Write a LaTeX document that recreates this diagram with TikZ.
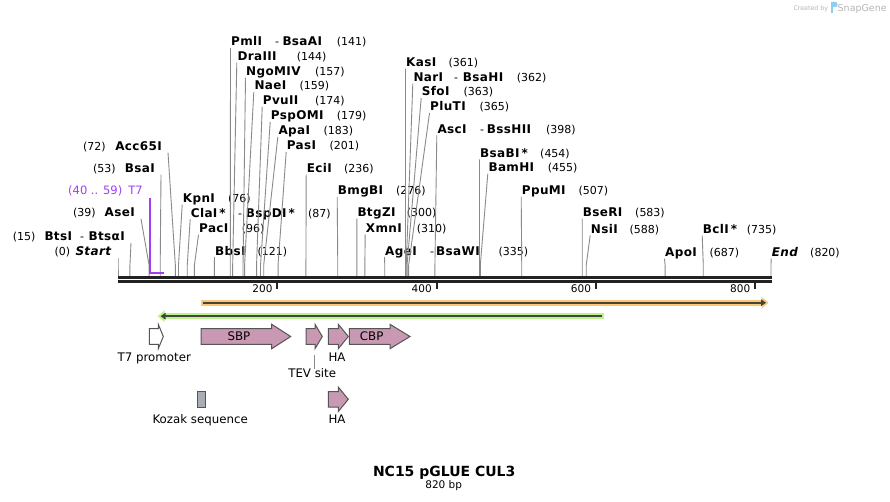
\documentclass[tikz,border=0pt]{standalone}
\usepackage{fontspec}
\setmainfont{DejaVu Sans}
\newfontfamily\enzfont{DejaVu Sans}[LetterSpace=3.0]
\usetikzlibrary{arrows.meta}
\definecolor{pinkf}{HTML}{C998B2}
\definecolor{featline}{HTML}{555555}
\definecolor{cutgray}{HTML}{8A8A8A}
\definecolor{rulerc}{HTML}{222222}
\definecolor{orglow}{HTML}{F9C775}
\definecolor{grglow}{HTML}{BDF38E}
\definecolor{darkln}{HTML}{45453F}
\definecolor{tsevpurple}{HTML}{A040F0}
\definecolor{kozakc}{HTML}{A9ADB5}
\definecolor{sgray}{HTML}{B5B5B5}
\definecolor{sblue}{HTML}{8CCFF0}
\tikzset{
  enz/.style={font=\fontsize{12}{13}\enzfont\bfseries, inner sep=0pt},
  num/.style={font=\fontsize{11}{13}\selectfont, inner sep=0pt},
  cutline/.style={draw=cutgray, line width=0.9pt},
  flab/.style={font=\fontsize{11.8}{14}\selectfont, inner sep=0pt},
  featstyle/.style={draw=featline, line width=1pt, line join=miter},
  ticklab/.style={font=\fontsize{10.5}{12}\selectfont, inner sep=0pt, anchor=base east},
}
% right-hand label: name, text, x, baseline, number x, number text, bp
\newcommand\rlab[7]{%
  \node[enz,anchor=base west] (#1) at (#3,#4) {#2};
  \node[num,anchor=base west] (#1-n) at (#5,#4) {#6};
  \coordinate (#1-c) at ({118+0.7963*#7},276);
  \coordinate (#1-b) at ({118+0.7963*#7},265);
  \draw[cutline] ([xshift=-0.5pt,yshift=-2pt]#1.base west) -- (#1-b) -- (#1-c);
}
% left-hand label: name, text, right x, baseline, number x, number text, bp
\newcommand\llab[7]{%
  \node[enz,anchor=base east] (#1) at (#3,#4) {#2};
  \node[num,anchor=base west] (#1-n) at (#5,#4) {#6};
  \coordinate (#1-c) at ({118+0.7963*#7},276);
  \coordinate (#1-b) at ({118+0.7963*#7},265);
  \draw[cutline] ([xshift=6pt,yshift=-2pt]#1.base east) -- (#1-b) -- (#1-c);
}
% feature arrow: x1, head start, tip, centre y, fill
\newcommand\featarr[5]{%
  \draw[featstyle,fill=#5] ({#1},{#4-7.8}) -- ({#2},{#4-7.8}) -- ({#2},{#4-12.2}) -- ({#3},{#4})
    -- ({#2},{#4+12.2}) -- ({#2},{#4+7.8}) -- ({#1},{#4+7.8}) -- cycle;
}
\begin{document}
\begin{tikzpicture}[x=1pt,y=-1pt]
\useasboundingbox[fill=white] (0,0) rectangle (890,502);

% SnapGene credit
\node[font=\fontsize{6.3}{7}\selectfont, text=sgray, inner sep=0pt, anchor=base west] (cred) at (793.3,11) {Created by};
\fill[sblue] (830.5,2) rectangle (833,13);
\fill[sblue] (833,2) -- (836,2) .. controls (838,2) and (838,7) .. (836,7) -- (833,7) -- cycle;
\node[font=\fontsize{9.5}{11}\selectfont, text=sgray, inner sep=0pt, anchor=base west] (sg) at (837.5,11.5) {SnapGene};

% left labels
\llab{Start}{\textit{Start}}{112}{256}{54.3}{(0)}{0}
\llab{BtsaI}{BtsαI}{125}{241}{12.7}{(15)}{15}
\node[enz,anchor=base west] (BtsI) at (44.3,241) {BtsI};
\node[num,anchor=base west] (BtsI-d) at (80,241) {-};
\llab{AseI}{AseI}{135}{217}{73}{(39)}{39}
\llab{BsaI}{BsaI}{155}{172.7}{93}{(53)}{53}
\llab{Acc65I}{Acc65I}{162}{150.7}{83}{(72)}{72}

% T7 primer/feature mark
\node[num,font=\fontsize{11.5}{13}\selectfont,text=tsevpurple,anchor=base east] (T7) at (143,195) {T7};
\node[num,font=\fontsize{11.5}{13}\selectfont,text=tsevpurple,anchor=base west] (T7-n) at (68,195) {(40 .. 59)};
\coordinate (T7-c) at (163.5,272.7);
\draw[tsevpurple, line width=2.2pt] ([xshift=6.7pt,yshift=-3pt]T7.base east) |- (T7-c);

% right labels
\rlab{KpnI}{KpnI}{182.7}{202.7}{228}{(76)}{76}
\rlab{ClaI}{ClaI\,*}{190.7}{217.3}{308}{(87)}{87}
\node[num,anchor=base west] (ClaI-d) at (238,217.3) {-};
\node[enz,anchor=base west] (BspDI) at (245.7,217.3) {BspDI\,*};
\rlab{PacI}{PacI}{199}{232.7}{241.7}{(96)}{96}
\rlab{BbsI}{BbsI}{215}{255}{257.3}{(121)}{121}
\rlab{PmlI}{PmlI}{231}{46}{336.7}{(141)}{141}
\node[num,anchor=base west] (PmlI-d) at (275,46) {-};
\node[enz,anchor=base west] (BsaAI) at (282.3,46) {BsaAI};
\rlab{DraIII}{DraIII}{237.3}{60.7}{296.7}{(144)}{144}
\rlab{NgoMIV}{NgoMIV}{246}{75.7}{315}{(157)}{157}
\rlab{NaeI}{NaeI}{254.3}{90}{299.3}{(159)}{159}
\rlab{PvuII}{PvuII}{262.7}{105}{315}{(174)}{174}
\rlab{PspOMI}{PspOMI}{270.7}{120}{336.7}{(179)}{179}
\rlab{ApaI}{ApaI}{278.3}{135}{323.3}{(183)}{183}
\rlab{PasI}{PasI}{286.7}{150}{329.3}{(201)}{201}
\rlab{EciI}{EciI}{306.7}{172.7}{344}{(236)}{236}
\rlab{BmgBI}{BmgBI}{337.7}{195}{396}{(276)}{276}
\rlab{BtgZI}{BtgZI}{357.3}{216.7}{406.7}{(300)}{300}
\rlab{XmnI}{XmnI}{365.7}{232.3}{416.7}{(310)}{310}
\rlab{AgeI}{AgeI}{385}{255}{498.3}{(335)}{335}
\node[num,anchor=base west] (AgeI-d) at (430,255) {-};
\node[enz,anchor=base west] (BsaWI) at (436,255) {BsaWI};
\rlab{KasI}{KasI}{406}{66.7}{448.3}{(361)}{361}
\rlab{NarI}{NarI}{413.3}{81.7}{516.7}{(362)}{362}
\node[num,anchor=base west] (NarI-d) at (454,81.7) {-};
\node[enz,anchor=base west] (BsaHI) at (462.7,81.7) {BsaHI};
\rlab{SfoI}{SfoI}{421.7}{96}{463.3}{(363)}{363}
\rlab{PluTI}{PluTI}{430}{111}{479.3}{(365)}{365}
\rlab{AscI}{AscI}{437.3}{133.3}{546}{(398)}{398}
\node[num,anchor=base west] (AscI-d) at (480,133.3) {-};
\node[enz,anchor=base west] (BssHII) at (486.7,133.3) {BssHII};
\rlab{BsaBI}{BsaBI\,*}{480}{157.3}{540}{(454)}{454}
\rlab{BamHI}{BamHI}{488.3}{171.7}{547.7}{(455)}{455}
\rlab{PpuMI}{PpuMI}{521.7}{195}{578.3}{(507)}{507}
\rlab{BseRI}{BseRI}{582.7}{216.7}{635}{(583)}{583}
\rlab{NsiI}{NsiI}{590.7}{233.3}{629.3}{(588)}{588}
\rlab{ApoI}{ApoI}{665}{256.7}{709.3}{(687)}{687}
\rlab{BclI}{BclI\,*}{702.7}{233.3}{746.7}{(735)}{735}
\rlab{End}{\textit{End}}{771.7}{256.7}{810}{(820)}{820}

% ruler
\draw[rulerc, line width=3pt] (118,277.2) -- (771.5,277.2);
\draw[rulerc, line width=2.6pt] (118,281.3) -- (771.5,281.3);
\foreach \v in {200,400,600,800}{
  \draw[rulerc, line width=2pt] ({118+0.7963*\v},282) -- ({118+0.7963*\v},289);
  \node[ticklab] (tick\v) at ({118+0.7963*\v-4.6},292.7) {\v};
}

% orange forward arrow
\draw[orglow, line width=5.6pt, -{Triangle[length=7pt,width=11pt]}] (201,302.7) -- (768.5,302.7);
\draw[darkln, line width=2pt, -{Triangle[length=5pt,width=6.5pt]}] (202.5,302.7) -- (766,302.7);
% green reverse arrow
\draw[grglow, line width=5.6pt, {Triangle[length=7pt,width=11pt]}-] (157.5,316.2) -- (603.5,316.2);
\draw[darkln, line width=2pt, {Triangle[length=5pt,width=6.5pt]}-] (160.5,316.2) -- (602,316.2);

% features row 1
\featarr{149.3}{158.3}{163.3}{336.5}{white}
\featarr{201}{271.7}{290.7}{336.5}{pinkf}
\featarr{306}{315}{322.3}{336.5}{pinkf}
\featarr{328.3}{338.3}{348.3}{336.5}{pinkf}
\featarr{349.3}{390}{410}{336.5}{pinkf}
\node[flab] (sbp) at (239,336.5) {SBP};
\node[flab] (cbp) at (371.7,336.5) {CBP};
\node[flab,anchor=base] (t7p) at (154.3,361.5) {T7 promoter};
\node[flab,anchor=base west] (ha1) at (328.3,361.5) {HA};
\node[flab,anchor=base] (tev) at (312.2,377.8) {TEV site};
\coordinate (tevpt) at (314.3,355);
\draw[cutline] (tevpt) -- (tevpt |- tev.north);

% features row 2
\draw[featstyle, fill=kozakc] (197.3,391.3) rectangle (205.7,407.3);
\featarr{328.3}{338.3}{348.3}{399.3}{pinkf}
\node[flab,anchor=base] (koz) at (200.2,423.8) {Kozak sequence};
\node[flab,anchor=base west] (ha2) at (328.3,423.8) {HA};

% title
\node[font=\fontsize{14}{16}\selectfont\bfseries, inner sep=0pt, anchor=base] (title) at (444.2,476) {NC15 pGLUE CUL3};
\node[font=\fontsize{10.5}{12}\selectfont, inner sep=0pt, anchor=base] (bp) at (443.7,488) {820 bp};
\end{tikzpicture}
\end{document}
